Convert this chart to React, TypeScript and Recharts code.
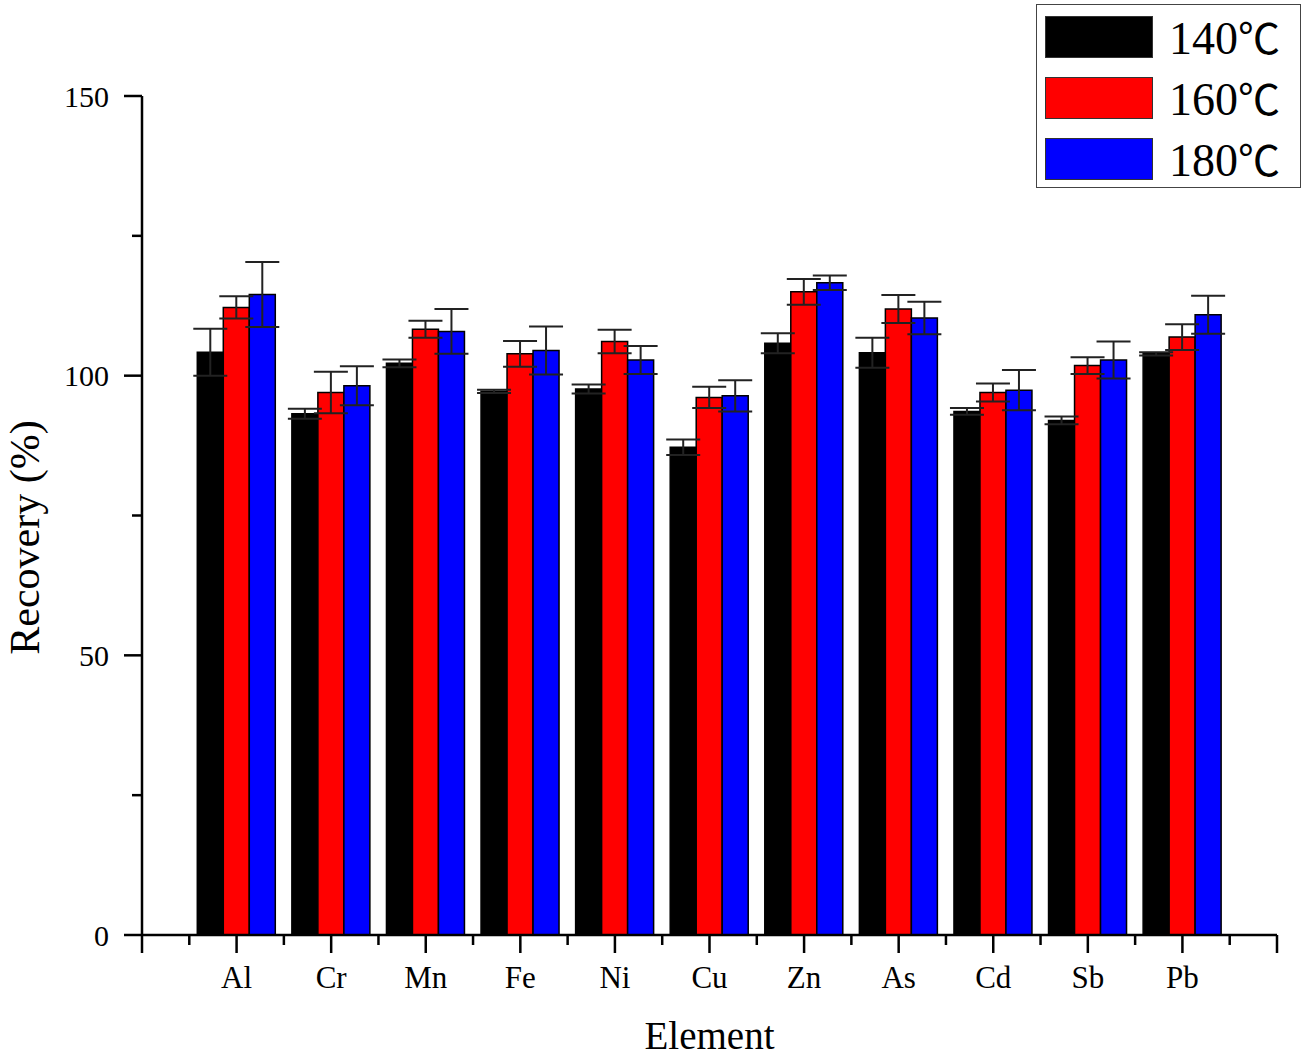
import { Bar, BarChart, ErrorBar, Legend, XAxis, YAxis } from "recharts";

const ELEMENTS = ["Al", "Cr", "Mn", "Fe", "Ni", "Cu", "Zn", "As", "Cd", "Sb", "Pb"];

const R140 = [104.2, 93.2, 102.2, 97.2, 97.6, 87.2, 105.8, 104.1, 93.6, 92.0, 103.9];
const E140 = [4.2, 0.9, 0.7, 0.3, 0.8, 1.4, 1.8, 2.7, 0.6, 0.7, 0.3];
const R160 = [112.2, 97.0, 108.3, 103.9, 106.1, 96.1, 115.0, 111.9, 97.0, 101.8, 106.9];
const E160 = [2.0, 3.7, 1.5, 2.3, 2.1, 1.9, 2.3, 2.5, 1.6, 1.5, 2.3];
const R180 = [114.5, 98.2, 107.9, 104.5, 102.8, 96.4, 116.6, 110.3, 97.4, 102.8, 110.9];
const E180 = [5.8, 3.5, 4.0, 4.3, 2.5, 2.8, 1.3, 2.9, 3.6, 3.3, 3.4];

const SERIES = [
  { key: "r140", err: "e140", name: "140℃", color: "#000000" },
  { key: "r160", err: "e160", name: "160℃", color: "#ff0000" },
  { key: "r180", err: "e180", name: "180℃", color: "#0000ff" },
];

const Y_TICKS = [0, 25, 50, 75, 100, 125, 150];
const X_TICKS = [0, 0.5, 1, 1.5, 2, 2.5, 3, 3.5, 4, 4.5, 5, 5.5, 6, 6.5, 7, 7.5, 8, 8.5, 9, 9.5, 10, 10.5, 11, 11.5, 12];

const data = ELEMENTS.map((el, i) => ({
  x: i + 1,
  name: el,
  r140: R140[i],
  e140: E140[i],
  r160: R160[i],
  e160: E160[i],
  r180: R180[i],
  e180: E180[i],
}));

const FONT = "'Liberation Serif', 'Times New Roman', 'Noto Sans CJK SC', serif";
const CJK = "'Noto Sans CJK SC', 'Liberation Serif', serif";
const TICK = 18;
const TICK_MINOR = 10;
const GAP = 14;

function YTick(props: any) {
  const { x, y, payload } = props;
  const ax = x + TICK + GAP;
  const major = payload.value % 50 === 0;
  return (
    <g>
      <line x1={ax - (major ? TICK : TICK_MINOR)} x2={ax} y1={y} y2={y} stroke="#000" strokeWidth={2.5} />
      {major && (
        <text x={ax - 33} y={y} dy="0.35em" textAnchor="end" fontSize={30} fontFamily={FONT} fill="#000">
          {payload.value}
        </text>
      )}
    </g>
  );
}

function XTick(props: any) {
  const { x, y, payload } = props;
  const ay = y - TICK - GAP;
  const v = payload.value;
  const major = Number.isInteger(v);
  const label = v >= 1 && v <= ELEMENTS.length && major ? ELEMENTS[v - 1] : "";
  return (
    <g>
      <line x1={x} x2={x} y1={ay} y2={ay + (major ? TICK : TICK_MINOR)} stroke="#000" strokeWidth={2.5} />
      {label && (
        <text x={x} y={ay + 53} textAnchor="middle" fontSize={31} fontFamily={FONT} fill="#000">
          {label}
        </text>
      )}
    </g>
  );
}

function YTitle(props: any) {
  const { viewBox } = props;
  const cx = viewBox.x + 39;
  const cy = viewBox.y + viewBox.height / 2 + 22;
  return (
    <text x={cx} y={cy} transform={`rotate(-90, ${cx}, ${cy})`} textAnchor="middle" fontSize={42} fontFamily={FONT} fill="#000">
      Recovery (%)
    </text>
  );
}

function XTitle(props: any) {
  const { viewBox } = props;
  const cx = viewBox.x + viewBox.width / 2;
  const cy = viewBox.y + viewBox.height - 10;
  return (
    <text x={cx} y={cy} textAnchor="middle" fontSize={39} fontFamily={FONT} fill="#000">
      Element
    </text>
  );
}

function LegendBox() {
  return (
    <div
      style={{
        width: 265,
        height: 184,
        border: "1.5px solid #444",
        background: "#fff",
        boxSizing: "border-box",
        position: "relative",
        fontFamily: FONT,
      }}
    >
      {SERIES.map((s, i) => (
        <div key={s.key} style={{ position: "absolute", left: 8, top: 10 + i * 61, height: 43, display: "flex", alignItems: "center" }}>
          <div style={{ width: 108, height: 42, background: s.color, border: "1px solid #333", boxSizing: "border-box" }} />
          <span style={{ marginLeft: 16, fontSize: 46, lineHeight: "43px", color: "#000" }}>
            {s.name.slice(0, -1)}
            <span style={{ fontFamily: CJK, fontSize: 42 }}>{s.name.slice(-1)}</span>
          </span>
        </div>
      ))}
    </div>
  );
}

export default function App() {
  return (
    <div style={{ position: "absolute", left: 0, top: 0, background: "#fff" }}>
      <BarChart
        width={1305}
        height={1059}
        data={data}
        margin={{ top: 96, right: 28, bottom: 0, left: 0 }}
        barGap={0}
        barSize={26}
      >
        <XAxis
          type="number"
          dataKey="x"
          domain={[0, 12]}
          ticks={X_TICKS}
          interval={0}
          height={124}
          tickSize={TICK}
          tickMargin={GAP}
          tickLine={false}
          tick={<XTick />}
          axisLine={{ stroke: "#000", strokeWidth: 2.5 }}
          label={<XTitle />}
        />
        <YAxis
          type="number"
          domain={[0, 150]}
          ticks={Y_TICKS}
          interval={0}
          width={142}
          tickSize={TICK}
          tickMargin={GAP}
          tickLine={false}
          tick={<YTick />}
          axisLine={{ stroke: "#000", strokeWidth: 2.5 }}
          label={<YTitle />}
        />
        <Legend
          layout="vertical"
          align="center"
          verticalAlign="middle"
          content={<LegendBox />}
          wrapperStyle={{ position: "absolute", left: 1036, top: 4, width: 265, height: 184 }}
        />
        {SERIES.map((s) => (
          <Bar key={s.key} dataKey={s.key} name={s.name} fill={s.color} stroke="#000" strokeWidth={1.5} isAnimationActive={false}>
            <ErrorBar dataKey={s.err} width={17} stroke="#222" strokeWidth={2} direction="y" />
          </Bar>
        ))}
      </BarChart>
    </div>
  );
}
